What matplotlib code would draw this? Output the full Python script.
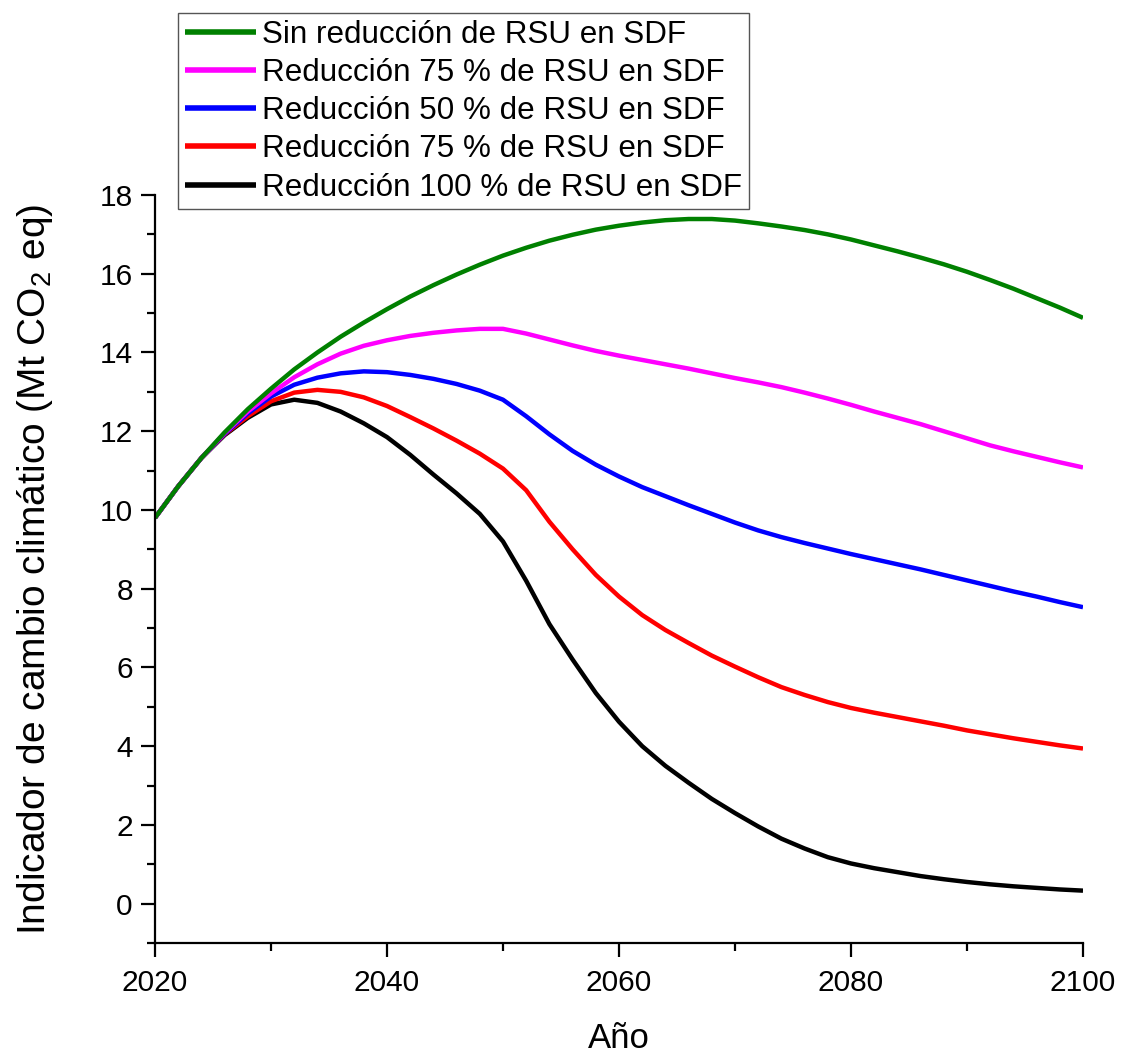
import matplotlib
matplotlib.use("Agg")
import matplotlib.pyplot as plt
from matplotlib.ticker import MultipleLocator

plt.rcParams['font.family'] = ['Liberation Sans', 'DejaVu Sans']

# Years (every two years) and climate-change indicator per scenario (Mt CO2 eq)
years = list(range(2020, 2101, 2))

sin_reduccion = [9.8, 10.6, 11.32, 11.97, 12.56, 13.08, 13.57, 14.0, 14.4, 14.76,
                 15.1, 15.42, 15.71, 15.98, 16.23, 16.46, 16.66, 16.84, 16.99, 17.12,
                 17.22, 17.3, 17.36, 17.39, 17.39, 17.35, 17.28, 17.2, 17.11, 17.0,
                 16.87, 16.72, 16.57, 16.41, 16.24, 16.05, 15.84, 15.62, 15.38, 15.14,
                 14.88]

reduccion_75a = [9.8, 10.6, 11.32, 11.95, 12.5, 12.96, 13.37, 13.7, 13.97, 14.17,
                 14.31, 14.42, 14.5, 14.56, 14.6, 14.6, 14.48, 14.33, 14.18, 14.04,
                 13.92, 13.81, 13.7, 13.59, 13.47, 13.35, 13.24, 13.12, 12.98, 12.83,
                 12.67, 12.5, 12.34, 12.18, 12.0, 11.82, 11.64, 11.49, 11.35, 11.21,
                 11.08]

reduccion_50 = [9.8, 10.6, 11.32, 11.93, 12.45, 12.88, 13.18, 13.36, 13.47, 13.52,
                13.5, 13.43, 13.33, 13.2, 13.03, 12.8, 12.38, 11.92, 11.5, 11.15,
                10.85, 10.58, 10.35, 10.12, 9.9, 9.68, 9.48, 9.31, 9.16, 9.02,
                8.88, 8.75, 8.62, 8.49, 8.35, 8.21, 8.07, 7.93, 7.8, 7.66,
                7.53]

reduccion_75b = [9.8, 10.6, 11.32, 11.92, 12.38, 12.76, 12.98, 13.05, 13.0, 12.86,
                 12.64, 12.36, 12.07, 11.76, 11.43, 11.05, 10.5, 9.7, 9.0, 8.35,
                 7.8, 7.33, 6.95, 6.62, 6.3, 6.02, 5.75, 5.5, 5.3, 5.12,
                 4.97, 4.85, 4.74, 4.63, 4.52, 4.4, 4.3, 4.2, 4.11, 4.02,
                 3.94]

reduccion_100 = [9.8, 10.6, 11.32, 11.9, 12.34, 12.68, 12.8, 12.72, 12.5, 12.2,
                 11.85, 11.4, 10.9, 10.42, 9.9, 9.2, 8.2, 7.1, 6.2, 5.35,
                 4.62, 4.0, 3.5, 3.07, 2.66, 2.3, 1.96, 1.65, 1.4, 1.18,
                 1.02, 0.9, 0.8, 0.7, 0.62, 0.55, 0.49, 0.44, 0.4, 0.36,
                 0.33]

labels = ["Sin reducción de RSU en SDF",
          "Reducción 75 % de RSU en SDF",
          "Reducción 50 % de RSU en SDF",
          "Reducción 75 % de RSU en SDF",
          "Reducción 100 % de RSU en SDF"]
colors = ["#008000", "#ff00ff", "#0000ff", "#ff0000", "#000000"]
series = [sin_reduccion, reduccion_75a, reduccion_50, reduccion_75b, reduccion_100]

W, H = 1129, 1055
fig = plt.figure(figsize=(W / 100, H / 100), dpi=100)
ax = fig.add_axes([155 / W, 1 - 943 / H, (1083 - 155) / W, (943 - 195) / H])

handles = [None] * len(series)
# draw the lowest scenario first so the baseline sits on top
for i in reversed(range(len(series))):
    handles[i], = ax.plot(years, series[i], color=colors[i], lw=3.2, label=labels[i],
                          solid_capstyle='butt', solid_joinstyle='round')

ax.set_xlim(2020, 2100)
ax.set_ylim(-1, 18)
ax.xaxis.set_major_locator(MultipleLocator(20))
ax.xaxis.set_minor_locator(MultipleLocator(10))
ax.yaxis.set_major_locator(MultipleLocator(2))
ax.yaxis.set_minor_locator(MultipleLocator(1))

for side in ('top', 'right'):
    ax.spines[side].set_visible(False)
for side in ('left', 'bottom'):
    ax.spines[side].set_linewidth(1.6)

ax.tick_params(which='major', direction='out', length=10, width=1.6,
               labelsize=21.5, pad=6)
ax.tick_params(which='minor', direction='out', length=5.5, width=1.6)
ax.tick_params(axis='x', which='major', pad=9)

ax.set_xlabel("Año", fontsize=25, labelpad=18)
ax.set_ylabel(r"Indicador de cambio climático (Mt CO$_\mathregular{2}$ eq)",
              fontsize=28, labelpad=32)

leg = fig.legend(handles=handles, loc='upper left',
                 bbox_to_anchor=(178 / W, 1 - 13 / H), bbox_transform=fig.transFigure,
                 fontsize=22.6, frameon=True, fancybox=False, framealpha=1,
                 edgecolor='#555555', borderpad=0.22, borderaxespad=0,
                 labelspacing=0.26, handlelength=2.25, handletextpad=0.22)
leg.get_frame().set_linewidth(1.0)
for line in leg.get_lines():
    line.set_linewidth(4)

fig.savefig("out.png", dpi=100)
